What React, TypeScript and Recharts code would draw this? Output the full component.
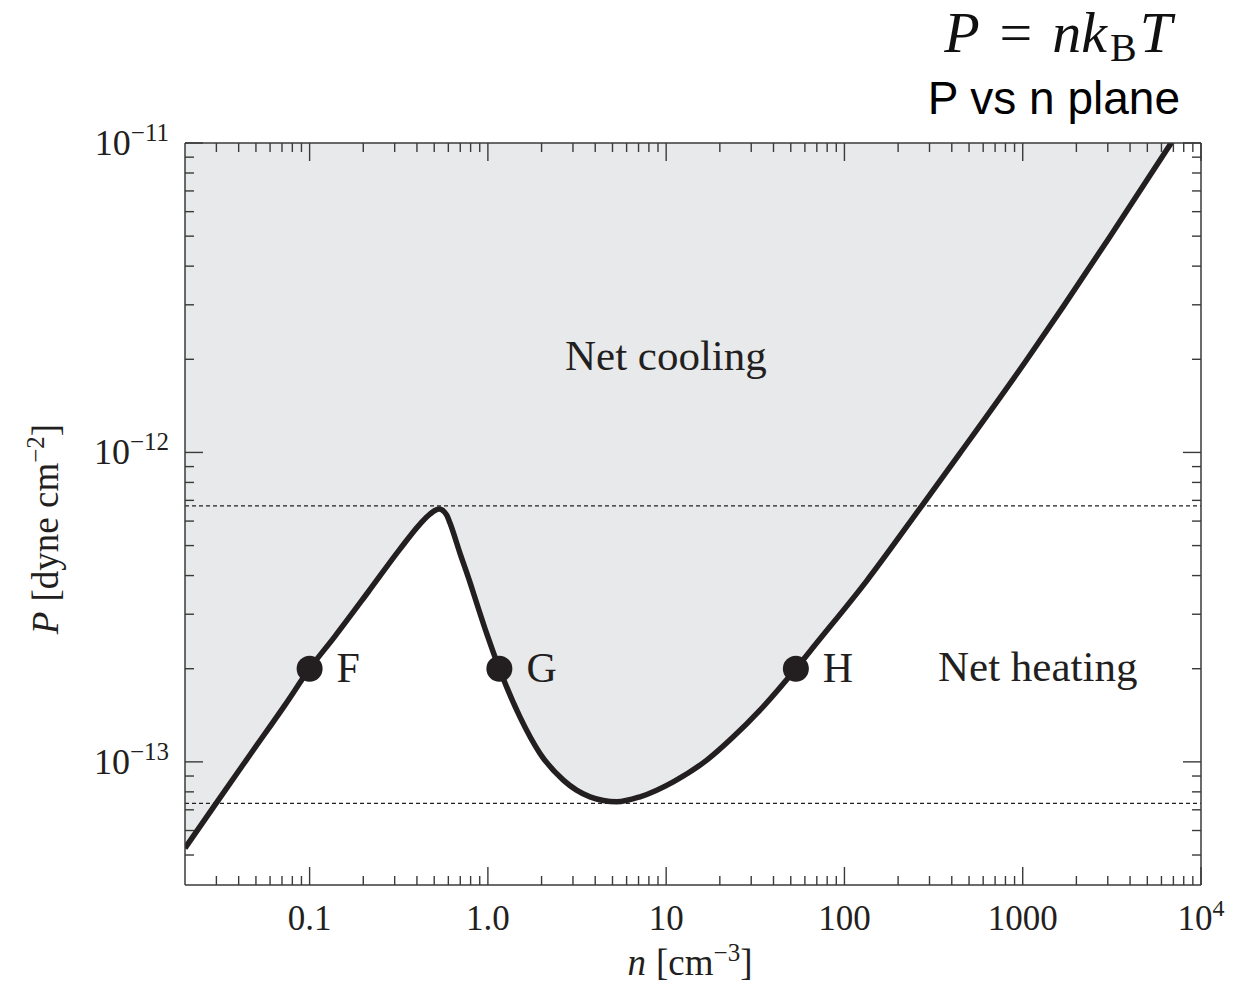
import React from 'react';
import { ComposedChart, Area, Line, Scatter, XAxis, YAxis, ReferenceLine } from 'recharts';

// equilibrium curve: n [cm^-3] and P [dyne cm^-2]
const nValues = [
  0.02, 0.0294, 0.0475, 0.0727, 0.1, 0.139, 0.213, 0.321, 0.416, 0.473, 0.532, 0.587, 0.613,
  0.697, 0.793, 0.88, 0.984, 1.16, 1.51, 1.96, 2.65, 3.74, 5.28, 7.13, 10.96, 16.9, 23.8, 33.6,
  53.4, 69.8, 133, 271, 444, 1051, 1687, 3083, 6690, 7500,
];
const pValues = [
  5.26e-14, 7.25e-14, 1.076e-13, 1.526e-13, 2.0e-13, 2.55e-13, 3.54e-13, 4.87e-13, 5.87e-13,
  6.32e-13, 6.56e-13, 6.28e-13, 5.91e-13, 4.73e-13, 3.81e-13, 3.16e-13, 2.6e-13, 2.0e-13, 1.4e-13,
  1.065e-13, 8.73e-14, 7.71e-14, 7.43e-14, 7.71e-14, 8.62e-14, 1.013e-13, 1.205e-13, 1.47e-13,
  2.0e-13, 2.42e-13, 3.84e-13, 6.71e-13, 9.93e-13, 1.99e-12, 2.96e-12, 4.98e-12, 9.85e-12, 1.09e-11,
];

// marked points on the curve
const pointNames = ['F', 'G', 'H'];
const pointN = [0.1, 1.16, 53.4];
const pointP = [2e-13, 2e-13, 2e-13];

// dashed pressure limits (max / min)
const pressureLimits = [6.72e-13, 7.34e-14];

// axes
const xDomain = [0.02, 10000];
const yDomain = [4e-14, 1e-11];
const xMajorTicks = [0.1, 1, 10, 100, 1000, 10000];
const xMajorLabels = ['0.1', '1.0', '10', '100', '1000', '10'];
const xMajorSup = ['', '', '', '', '', '4'];
const yMajorTicks = [1e-13, 1e-12, 1e-11];
const yMajorExponents = ['\u221213', '\u221212', '\u221211'];

const curve = nValues.map((n, i) => ({ n, P: pValues[i] }));
const points = pointNames.map((name, i) => ({ name, n: pointN[i], P: pointP[i] }));

// log minor ticks 2..9 x 10^e strictly inside the domain
const minorTicks = (e0: number, e1: number, lo: number, hi: number) => {
  const out: number[] = [];
  for (let e = e0; e <= e1; e++) {
    for (let m = 2; m <= 9; m++) {
      const v = m * Math.pow(10, e);
      if (v > lo * 1.001 && v < hi * 0.999) out.push(v);
    }
  }
  return out;
};

const xTicks = [...xMajorTicks, ...minorTicks(-2, 3, xDomain[0], xDomain[1])];
const yTicks = [...yMajorTicks, ...minorTicks(-14, -12, yDomain[0], yDomain[1])];

const SERIF = "'Liberation Serif', 'DejaVu Serif', serif";
const SANS = "'Liberation Sans', Arial, sans-serif";
const AX = '#3a3a3a';
const INK = '#231f20';
const MAJOR = 18;
const MINOR = 9;

const BottomTick = (props: any) => {
  const { x, y, payload } = props;
  const i = xMajorTicks.indexOf(payload.value);
  return (
    <g>
      <line x1={x} x2={x} y1={y} y2={y - (i >= 0 ? MAJOR : MINOR)} stroke={AX} strokeWidth={1.4} />
      {i >= 0 && (
        <text x={x} y={y + 45} textAnchor="middle" fontFamily={SERIF} fontSize={35} fill={INK}>
          <tspan>{xMajorLabels[i]}</tspan>
          {xMajorSup[i] && (
            <tspan fontSize={24} dy={-14}>
              {xMajorSup[i]}
            </tspan>
          )}
        </text>
      )}
    </g>
  );
};

const TopTick = (props: any) => {
  const { x, y, payload } = props;
  const major = xMajorTicks.includes(payload.value);
  return <line x1={x} x2={x} y1={y} y2={y + (major ? MAJOR : MINOR)} stroke={AX} strokeWidth={1.4} />;
};

const LeftTick = (props: any) => {
  const { x, y, payload } = props;
  const i = yMajorTicks.indexOf(payload.value);
  return (
    <g>
      <line x1={x} x2={x + (i >= 0 ? MAJOR : MINOR)} y1={y} y2={y} stroke={AX} strokeWidth={1.4} />
      {i >= 0 && (
        <text x={x - 16} y={y + 12} textAnchor="end" fontFamily={SERIF} fontSize={36} fill={INK}>
          <tspan>10</tspan>
          <tspan fontSize={25} dy={-14}>
            {yMajorExponents[i]}
          </tspan>
        </text>
      )}
    </g>
  );
};

const RightTick = (props: any) => {
  const { x, y, payload } = props;
  const major = yMajorTicks.includes(payload.value);
  return <line x1={x} x2={x - (major ? MAJOR : MINOR)} y1={y} y2={y} stroke={AX} strokeWidth={1.4} />;
};

const Marker = (props: any) => {
  const { cx, cy, payload } = props;
  return (
    <g>
      <circle cx={cx} cy={cy} r={13} fill={INK} />
      <text x={cx + 27} y={cy + 13} fontFamily={SERIF} fontSize={42} fill={INK}>
        {payload.name}
      </text>
    </g>
  );
};

const axisLine = { stroke: AX, strokeWidth: 1.5 };

export default function App() {
  return (
    <div style={{ position: 'absolute', left: 0, top: 0, width: 1247, height: 984, background: '#fff' }}>
      <ComposedChart
        width={1247}
        height={984}
        data={curve}
        margin={{ top: 133, right: 36, bottom: 39, left: 85 }}
      >
        <XAxis
          dataKey="n"
          type="number"
          scale="log"
          domain={xDomain}
          allowDataOverflow
          ticks={xTicks}
          interval={0}
          height={60}
          tickSize={0}
          tickMargin={0}
          tickLine={false}
          axisLine={axisLine}
          tick={<BottomTick />}
        />
        <XAxis
          xAxisId="top"
          orientation="top"
          dataKey="n"
          type="number"
          scale="log"
          domain={xDomain}
          allowDataOverflow
          ticks={xTicks}
          interval={0}
          height={10}
          tickSize={0}
          tickMargin={0}
          tickLine={false}
          axisLine={axisLine}
          tick={<TopTick />}
        />
        <YAxis
          type="number"
          scale="log"
          domain={yDomain}
          allowDataOverflow
          ticks={yTicks}
          interval={0}
          width={100}
          tickSize={0}
          tickMargin={0}
          tickLine={false}
          axisLine={axisLine}
          tick={<LeftTick />}
        />
        <YAxis
          yAxisId="right"
          orientation="right"
          type="number"
          scale="log"
          domain={yDomain}
          allowDataOverflow
          ticks={yTicks}
          interval={0}
          width={10}
          tickSize={0}
          tickMargin={0}
          tickLine={false}
          axisLine={axisLine}
          tick={<RightTick />}
        />
        <Area
          dataKey="P"
          type="monotone"
          baseValue="dataMax"
          fill="#e8e9eb"
          fillOpacity={1}
          stroke="none"
          isAnimationActive={false}
        />
        {pressureLimits.map((p) => (
          <ReferenceLine key={p} y={p} stroke={INK} strokeWidth={1.3} strokeDasharray="4 3" />
        ))}
        <Line
          dataKey="P"
          type="monotone"
          stroke={INK}
          strokeWidth={5.5}
          dot={false}
          activeDot={false}
          isAnimationActive={false}
        />
        <Scatter data={points} dataKey="P" shape={<Marker />} isAnimationActive={false} />
      </ComposedChart>

      <svg
        width={1247}
        height={984}
        style={{ position: 'absolute', left: 0, top: 0, pointerEvents: 'none' }}
      >
        <text x={1172} y={52} textAnchor="end" fontFamily={SERIF} fontSize={58} fill="#111">
          <tspan fontStyle="italic">P</tspan>
          <tspan dx={20}>=</tspan>
          <tspan dx={20} fontStyle="italic">nk</tspan>
          <tspan fontSize={40} dx={3} dy={9}>B</tspan>
          <tspan fontStyle="italic" dx={3} dy={-9}>T</tspan>
        </text>
        <text x={1180} y={114} textAnchor="end" fontFamily={SANS} fontSize={46} fill="#000">
          P vs n plane
        </text>
        <text x={565} y={370} fontFamily={SERIF} fontSize={43} fill={INK}>
          Net cooling
        </text>
        <text x={938} y={681} fontFamily={SERIF} fontSize={43} fill={INK}>
          Net heating
        </text>
        <text transform="translate(58,529) rotate(-90)" textAnchor="middle" fontFamily={SERIF} fontSize={37} fill={INK}>
          <tspan fontStyle="italic">P</tspan>
          <tspan dx={10}>[dyne cm</tspan>
          <tspan fontSize={25} dy={-14}>{'\u22122'}</tspan>
          <tspan dy={14}>]</tspan>
        </text>
        <text x={690} y={975} textAnchor="middle" fontFamily={SERIF} fontSize={37} fill={INK}>
          <tspan fontStyle="italic">n</tspan>
          <tspan dx={10}>[cm</tspan>
          <tspan fontSize={25} dy={-14}>{'\u22123'}</tspan>
          <tspan dy={14}>]</tspan>
        </text>
      </svg>
    </div>
  );
}
